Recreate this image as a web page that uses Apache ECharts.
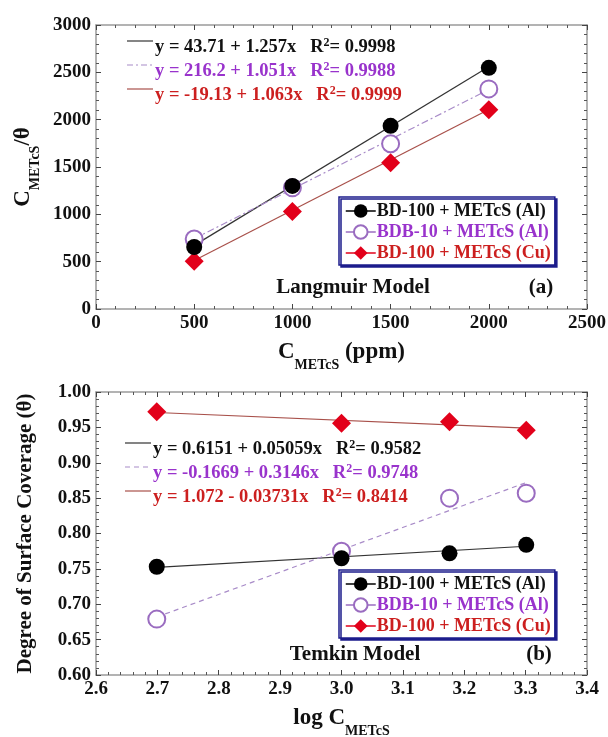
<!DOCTYPE html>
<html>
<head>
<meta charset="utf-8">
<script src="https://cdn.jsdelivr.net/npm/echarts@6/dist/echarts.min.js"></script>
<style>
  html, body { margin: 0; padding: 0; background: #fff; }
  #main { width: 608px; height: 737px; }
</style>
</head>
<body>
<div id="main"></div>
<script>
// Langmuir panel (a)
var concPpm = [500, 1000, 1500, 2000]
var langBD100Al = [655, 1300, 1935, 2548]
var langBDB10Al = [740, 1280, 1745, 2325]
var langBD100Cu = [505, 1030, 1545, 2105]
var langFitX = [500, 2000]
var langFitBD100Al = [672, 2558]
var langFitBDB10Al = [742, 2318]
var langFitBD100Cu = [512, 2107]

// Temkin panel (b)
var logConc = [2.699, 3.0, 3.176, 3.301]
var temBD100Al = [0.753, 0.765, 0.772, 0.784]
var temBDB10Al = [0.679, 0.775, 0.850, 0.857]
var temBD100Cu = [0.972, 0.956, 0.958, 0.946]
var temFitX = [2.699, 3.301]
var temFitBD100Al = [0.752, 0.782]
var temFitBDB10Al = [0.682, 0.872]
var temFitBD100Cu = [0.971, 0.949]

var names = ['BD-100 + METcS (Al)', 'BDB-10 + METcS (Al)', 'BD-100 + METcS (Cu)']
var eqLang = [['y = 43.71 + 1.257x', '0.9998'], ['y = 216.2 + 1.051x', '0.9988'], ['y = -19.13 + 1.063x', '0.9999']]
var eqTem = [['y = 0.6151 + 0.05059x', '0.9582'], ['y = -0.1669 + 0.3146x', '0.9748'], ['y = 1.072 - 0.03731x', '0.8414']]

var FONT = '"Liberation Serif", "Times New Roman", serif'
var textColors = ['#111111', '#9933cc', '#cc1f1f']
var markColors = ['#000000', '#9a6cc0', '#e2001a']
var fitColors = ['#333333', '#a88bc8', '#a8504a']

function pairs (xs, ys) {
  return xs.map(function (x, i) { return [x, ys[i]] })
}

function makeAxis (pos, gridIndex, min, max, interval, showLabel, digits) {
  return {
    type: 'value',
    gridIndex: gridIndex,
    position: pos,
    min: min,
    max: max,
    interval: interval,
    axisLine: { show: true, onZero: false, lineStyle: { color: '#9a9a9a', width: 1.5 } },
    axisTick: { show: true, inside: true, length: 5, lineStyle: { color: '#444', width: 1 } },
    minorTick: { show: true, splitNumber: 5, length: 3, lineStyle: { color: '#555', width: 1 } },
    splitLine: { show: false },
    axisLabel: {
      show: showLabel,
      color: '#111',
      fontFamily: FONT,
      fontWeight: 'bold',
      fontSize: 19,
      margin: 5,
      formatter: function (v) { return v.toFixed(digits) }
    }
  }
}

var rich = {
  m: { fontFamily: FONT, fontWeight: 'bold', fontSize: 23, color: '#111', padding: [0, 0, 8, 0], verticalAlign: 'bottom' },
  s: { fontFamily: FONT, fontWeight: 'bold', fontSize: 14, color: '#111', verticalAlign: 'bottom' }
}

function fitSeries (name, xi, yi, data, color, type) {
  return {
    name: name + ' fit',
    type: 'line',
    xAxisIndex: xi,
    yAxisIndex: yi,
    data: data,
    showSymbol: false,
    silent: true,
    z: 2,
    lineStyle: { color: color, width: 1.2, type: type }
  }
}

function dataSeries (idx, xi, yi, data) {
  var symbols = ['circle', 'emptyCircle', 'diamond']
  var sizes = [16, 17, 19]
  return {
    name: names[idx],
    type: 'line',
    xAxisIndex: xi,
    yAxisIndex: yi,
    data: data,
    symbol: symbols[idx],
    symbolSize: sizes[idx],
    z: 5 - idx,
    lineStyle: { width: 0, color: markColors[idx] },
    itemStyle: { color: markColors[idx], borderWidth: idx === 1 ? 1.3 : 0 }
  }
}

function legendCfg (top) {
  return {
    orient: 'vertical',
    left: 339,
    top: top,
    width: 218,
    padding: [5, 4, 3, 6],
    itemGap: 3,
    itemWidth: 30,
    itemHeight: 17,
    selectedMode: false,
    backgroundColor: '#fff',
    borderColor: '#1c1c8c',
    borderWidth: 1.5,
    shadowColor: '#1c1c8c',
    shadowBlur: 0,
    shadowOffsetX: 2,
    shadowOffsetY: 2,
    lineStyle: { width: 1.5 },
    textStyle: { fontFamily: FONT, fontWeight: 'bold', fontSize: 18, padding: [0, 0, 0, -4] },
    data: names.map(function (n, i) {
      return { name: n, textStyle: { color: textColors[i] } }
    })
  }
}

function eqGraphics (eqs, x0, y0, dashes) {
  var out = []
  eqs.forEach(function (e, i) {
    var y = y0 + i * 24
    out.push({
      type: 'line',
      shape: { x1: x0 - 28, y1: y - 8, x2: x0 - 2, y2: y - 8 },
      style: { stroke: fitColors[i], lineWidth: 1.2, lineDash: dashes[i] }
    })
    out.push({
      type: 'text',
      left: x0,
      top: y - 12,
      style: {
        rich: {
          t: { fontFamily: FONT, fontWeight: 'bold', fontSize: 18.5, fill: textColors[i], verticalAlign: 'bottom' },
          p: { fontFamily: FONT, fontWeight: 'bold', fontSize: 12, fill: textColors[i], padding: [0, 0, 8, 0], verticalAlign: 'bottom' }
        },
        text: '{t|' + e[0] + '   R}{p|2}{t|= ' + e[1] + '}'
      }
    })
  })
  return out
}

function label (text, cx, cy, size) {
  return {
    type: 'text',
    x: cx,
    y: cy,
    style: {
      text: text,
      fontFamily: FONT,
      fontWeight: 'bold',
      fontSize: size,
      fill: '#111',
      align: 'center',
      verticalAlign: 'middle'
    }
  }
}

var chart = echarts.init(document.getElementById('main'))

var xA0 = makeAxis('bottom', 0, 0, 2500, 500, true, 0)
xA0.name = '{m|C}{s|METcS}{m| (ppm)}'
xA0.nameLocation = 'middle'
xA0.nameGap = 32
xA0.nameTextStyle = { rich: rich }
var yA0 = makeAxis('left', 0, 0, 3000, 500, true, 0)
yA0.name = '{m|C}{s|METcS}{m|/θ}'
yA0.nameLocation = 'middle'
yA0.nameGap = 52
yA0.nameTextStyle = { rich: rich }

var xA2 = makeAxis('bottom', 1, 2.6, 3.4, 0.1, true, 1)
xA2.name = '{m|log C}{s|METcS}'
xA2.nameLocation = 'middle'
xA2.nameGap = 32
xA2.nameTextStyle = { rich: rich }
var yA2 = makeAxis('left', 1, 0.6, 1.0, 0.05, true, 2)
yA2.name = 'Degree of Surface Coverage (θ)'
yA2.nameLocation = 'middle'
yA2.nameGap = 60
yA2.nameTextStyle = { fontFamily: FONT, fontWeight: 'bold', fontSize: 21, color: '#111' }

var option = {
  animation: false,
  backgroundColor: '#fff',
  grid: [
    { left: 96, top: 25, width: 491, height: 284, outerBoundsMode: 'none' },
    { left: 96, top: 392, width: 491, height: 283, outerBoundsMode: 'none' }
  ],
  xAxis: [
    xA0,
    makeAxis('top', 0, 0, 2500, 500, false, 0),
    xA2,
    makeAxis('top', 1, 2.6, 3.4, 0.1, false, 1)
  ],
  yAxis: [
    yA0,
    makeAxis('right', 0, 0, 3000, 500, false, 0),
    yA2,
    makeAxis('right', 1, 0.6, 1.0, 0.05, false, 2)
  ],
  legend: [legendCfg(197), legendCfg(570)],
  graphic: eqGraphics(eqLang, 155, 49, [null, [6, 3, 2, 3], null])
    .concat(eqGraphics(eqTem, 153, 451, [null, [5, 4], null]))
    .concat([
      label('Langmuir Model', 353, 288, 21),
      label('(a)', 541, 288, 21),
      label('Temkin Model', 355, 655, 21),
      label('(b)', 539, 655, 21)
    ]),
  series: [
    fitSeries(names[0], 0, 0, pairs(langFitX, langFitBD100Al), fitColors[0], 'solid'),
    fitSeries(names[1], 0, 0, pairs(langFitX, langFitBDB10Al), fitColors[1], [7, 3, 2, 3]),
    fitSeries(names[2], 0, 0, pairs(langFitX, langFitBD100Cu), fitColors[2], 'solid'),
    dataSeries(0, 0, 0, pairs(concPpm, langBD100Al)),
    dataSeries(1, 0, 0, pairs(concPpm, langBDB10Al)),
    dataSeries(2, 0, 0, pairs(concPpm, langBD100Cu)),
    fitSeries(names[0], 2, 2, pairs(temFitX, temFitBD100Al), fitColors[0], 'solid'),
    fitSeries(names[1], 2, 2, pairs(temFitX, temFitBDB10Al), fitColors[1], [5, 4]),
    fitSeries(names[2], 2, 2, pairs(temFitX, temFitBD100Cu), fitColors[2], 'solid'),
    dataSeries(0, 2, 2, pairs(logConc, temBD100Al)),
    dataSeries(1, 2, 2, pairs(logConc, temBDB10Al)),
    dataSeries(2, 2, 2, pairs(logConc, temBD100Cu))
  ]
}

chart.setOption(option)
</script>
</body>
</html>
